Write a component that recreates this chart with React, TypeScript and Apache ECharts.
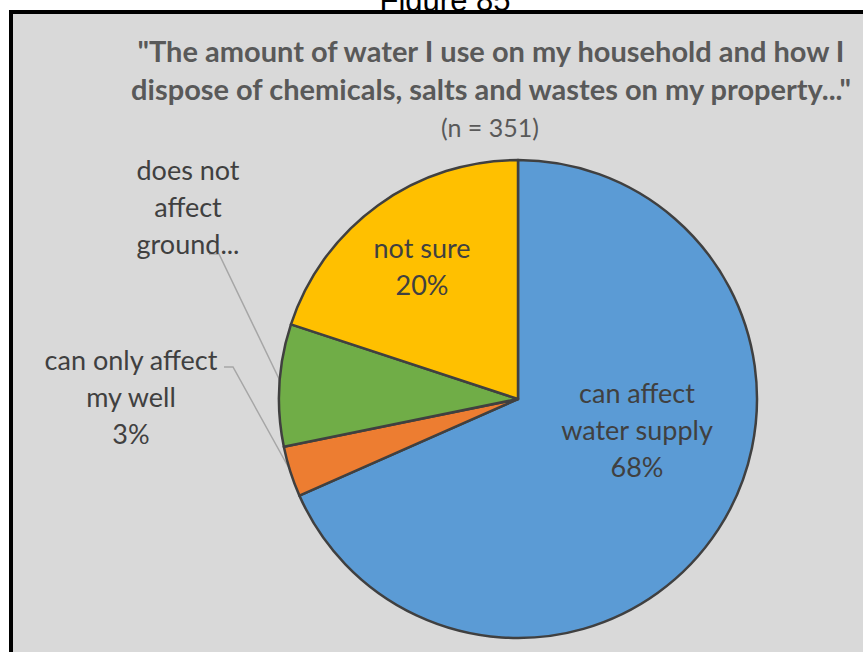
import React, { useEffect, useRef } from "react";
import * as echarts from "echarts";

const figureCaption = "Figure 85";
const titleLines = [
  "\"The amount of water I use on my household and how I",
  "dispose of chemicals, salts and wastes on my property...\"",
];
const subtitle = "(n = 351)";
const categories = [
  "can affect\nwater supply",
  "can only affect\nmy well",
  "does not\naffect\nground...",
  "not sure",
];
const counts = [240, 12, 29, 70];
const showPercent = [true, true, false, true];
const colors = ["#5b9bd5", "#ed7d31", "#70ad47", "#ffc000"];

const FONT = "Lato, 'Open Sans', sans-serif";

export default function App() {
  const ref = useRef<HTMLDivElement>(null);
  useEffect(() => {
    if (!ref.current) return;
    const chart = echarts.init(ref.current, null, { renderer: "svg" });
    const labelPos: Record<number, { x: number; y: number; line?: number[][] }> = {
      0: { x: 637, y: 429 },
      1: { x: 131, y: 396, line: [[224, 367], [233, 367], [290, 470]] },
      2: { x: 188, y: 206, line: [[209, 254], [219, 254], [281, 383]] },
      3: { x: 422, y: 266 },
    };
    chart.setOption({
      animation: false,
      backgroundColor: "#ffffff",
      graphic: [
        {
          type: "text",
          x: 445,
          y: 0,
          z: 1,
          style: {
            text: figureCaption,
            font: "31px 'Liberation Sans', Arial, sans-serif",
            fill: "#000000",
            align: "center",
            verticalAlign: "middle",
          },
        },
        {
          type: "rect",
          z: 2,
          shape: { x: 11, y: 12, width: 900, height: 700 },
          style: { fill: "#d9d9d9", stroke: "#000000", lineWidth: 4 },
        },
        {
          type: "text",
          x: 491,
          y: 50,
          z: 3,
          style: {
            text: titleLines[0],
            font: `bold 29px ${FONT}`,
            fill: "#595959",
            align: "center",
            verticalAlign: "middle",
          },
        },
        {
          type: "text",
          x: 491,
          y: 88,
          z: 3,
          style: {
            text: titleLines[1],
            font: `bold 29px ${FONT}`,
            fill: "#595959",
            align: "center",
            verticalAlign: "middle",
          },
        },
        {
          type: "text",
          x: 490,
          y: 127,
          z: 3,
          style: {
            text: subtitle,
            font: `25px ${FONT}`,
            fill: "#595959",
            align: "center",
            verticalAlign: "middle",
          },
        },
      ],
      series: [
        {
          type: "pie",
          z: 5,
          center: [518, 399],
          radius: [0, 239],
          startAngle: 90,
          clockwise: true,
          avoidLabelOverlap: false,
          itemStyle: { borderColor: "#404040", borderWidth: 2.5 },
          label: {
            show: true,
            position: "outside",
            color: "#404040",
            fontFamily: FONT,
            fontSize: 27,
            lineHeight: 37,
            align: "center",
            formatter: (p: any) =>
              showPercent[p.dataIndex]
                ? `${p.name}\n${Math.round(p.percent)}%`
                : p.name,
          },
          labelLine: { show: true, lineStyle: { color: "#a6a6a6", width: 1.5 } },
          labelLayout: (params: any) => {
            const pos = labelPos[params.dataIndex];
            const out: any = {
              x: pos.x,
              y: pos.y,
              align: "center",
              verticalAlign: "middle",
            };
            if (pos.line) out.labelLinePoints = pos.line;
            return out;
          },
          data: categories.map((name, i) => ({
            name,
            value: counts[i],
            itemStyle: { color: colors[i] },
            labelLine: { show: !!labelPos[i].line },
          })),
        },
      ],
    });
    return () => chart.dispose();
  }, []);
  return (
    <div
      ref={ref}
      style={{ position: "fixed", left: 0, top: 0, width: 863, height: 652 }}
    />
  );
}
